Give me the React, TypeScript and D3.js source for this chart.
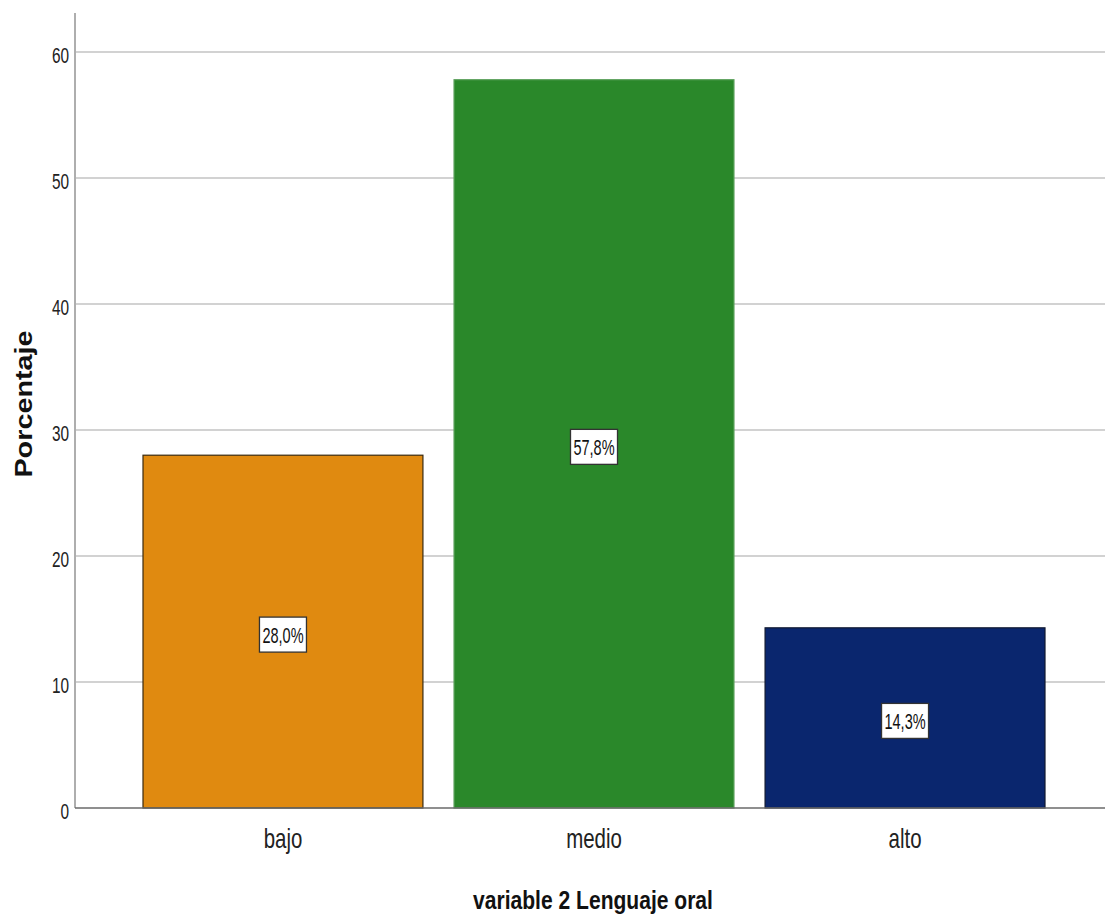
import React from "react";
import * as d3 from "d3";

const categories = ["bajo", "medio", "alto"];
const percentages = [28.0, 57.8, 14.3];
const barColors = ["#E08A10", "#2A882A", "#0A266E"];
const barStrokes = ["#3a2a10", "#5aa05a", "#101830"];
const yTicks = [0, 10, 20, 30, 40, 50, 60];
const xTitle = "variable 2 Lenguaje oral";
const yTitle = "Porcentaje";

const W = 1105;
const H = 922;
const FONT = "'Liberation Sans', Arial, sans-serif";

export default function App() {
  const y = d3.scaleLinear().domain([0, 60]).range([808, 52]);
  const x = d3.scaleBand<string>().domain(categories).range([143, 1045]).paddingInner(0.1).paddingOuter(0);
  const fmt = (v: number) => d3.format(".1f")(v).replace(".", ",") + "%";

  return (
    <svg width={W} height={H} style={{ position: "absolute", left: 0, top: 0, background: "#fff" }} fontFamily={FONT}>
      {/* gridlines */}
      {yTicks.filter((t) => t > 0).map((t) => (
        <line key={"g" + t} x1={76} x2={W} y1={y(t)} y2={y(t)} stroke="#d2d2d2" strokeWidth={2} />
      ))}
      {/* y axis */}
      <line x1={75} x2={75} y1={13} y2={y(0)} stroke="#9a9a9a" strokeWidth={1.6} />
      {/* tick labels */}
      {yTicks.map((t) => (
        <text key={"t" + t} transform={`translate(69,${y(t) + 10.5}) scale(0.7,1)`} textAnchor="end" fontSize={22} fill="#222">
          {t}
        </text>
      ))}
      {/* bars */}
      {categories.map((c, i) => (
        <rect
          key={"b" + c}
          x={x(c)!}
          y={y(percentages[i])}
          width={x.bandwidth()}
          height={y(0) - y(percentages[i])}
          fill={barColors[i]}
          stroke={barStrokes[i]}
          strokeWidth={1.2}
        />
      ))}
      {/* x axis */}
      <line x1={75} x2={W} y1={y(0)} y2={y(0)} stroke="#6a6a6a" strokeWidth={1.6} />
      {/* bar labels */}
      {categories.map((c, i) => {
        const cx = x(c)! + x.bandwidth() / 2;
        const cy = y(percentages[i] / 2) + 3;
        return (
          <g key={"l" + c}>
            <rect x={cx - 23.5} y={cy - 17.5} width={47} height={35} fill="#fff" stroke="#333" strokeWidth={1.3} />
            <text transform={`translate(${cx},${cy + 8}) scale(0.66,1)`} textAnchor="middle" fontSize={22} fill="#111">
              {fmt(percentages[i])}
            </text>
          </g>
        );
      })}
      {/* category labels */}
      {categories.map((c) => (
        <text key={"c" + c} transform={`translate(${x(c)! + x.bandwidth() / 2},848) scale(0.73,1)`} textAnchor="middle" fontSize={28} fill="#222">
          {c}
        </text>
      ))}
      {/* x title */}
      <text transform={`translate(593,909) scale(0.81,1)`} textAnchor="middle" fontSize={26} fontWeight="bold" fill="#111">
        {xTitle}
      </text>
      {/* y title */}
      <text transform={`translate(32,404) rotate(-90) scale(1.2,1)`} textAnchor="middle" fontSize={24} fontWeight="bold" fill="#111">
        {yTitle}
      </text>
    </svg>
  );
}
